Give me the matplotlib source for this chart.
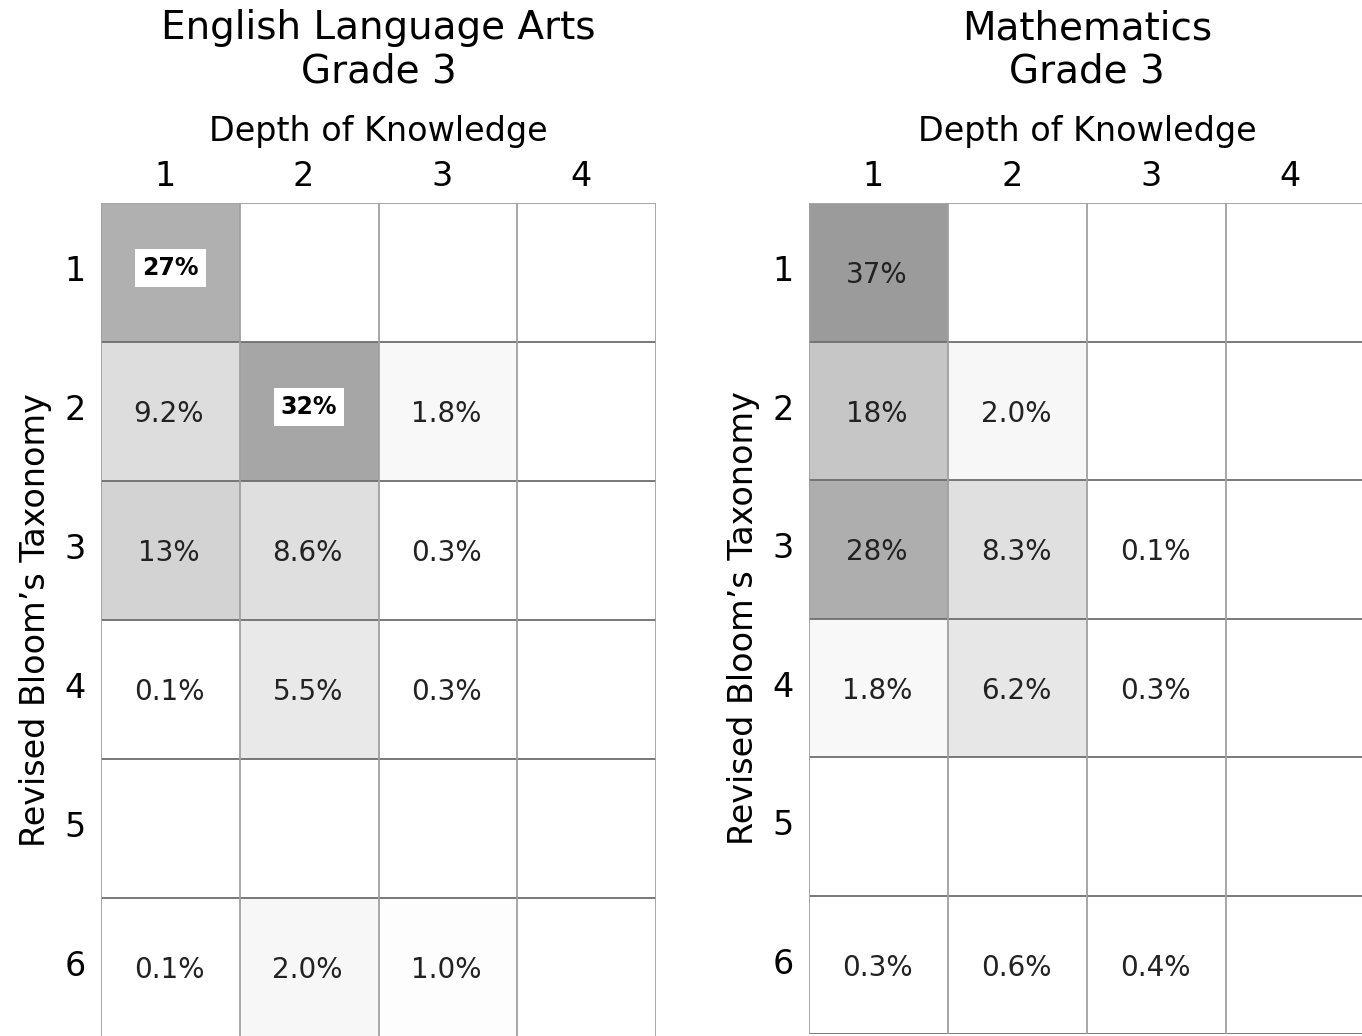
import numpy as np
import matplotlib.pyplot as plt
from matplotlib.colors import LinearSegmentedColormap, PowerNorm

# Depth of Knowledge (columns) x Revised Bloom's Taxonomy (rows), percent
dok_levels = ["1", "2", "3", "4"]
bloom_levels = ["1", "2", "3", "4", "5", "6"]

ela_values = [
    [27.0, np.nan, np.nan, np.nan],
    [9.2, 32.0, 1.8, np.nan],
    [13.0, 8.6, 0.3, np.nan],
    [0.1, 5.5, 0.3, np.nan],
    [np.nan, np.nan, np.nan, np.nan],
    [0.1, 2.0, 1.0, np.nan],
]
ela_labels = [
    ["27%", "", "", ""],
    ["9.2%", "32%", "1.8%", ""],
    ["13%", "8.6%", "0.3%", ""],
    ["0.1%", "5.5%", "0.3%", ""],
    ["", "", "", ""],
    ["0.1%", "2.0%", "1.0%", ""],
]
math_values = [
    [37.0, np.nan, np.nan, np.nan],
    [18.0, 2.0, np.nan, np.nan],
    [28.0, 8.3, 0.1, np.nan],
    [1.8, 6.2, 0.3, np.nan],
    [np.nan, np.nan, np.nan, np.nan],
    [0.3, 0.6, 0.4, np.nan],
]
math_labels = [
    ["37%", "", "", ""],
    ["18%", "2.0%", "", ""],
    ["28%", "8.3%", "0.1%", ""],
    ["1.8%", "6.2%", "0.3%", ""],
    ["", "", "", ""],
    ["0.3%", "0.6%", "0.4%", ""],
]
# cells whose label sits in a white box in the original
ela_boxed = ["27%", "32%"]

cmap = LinearSegmentedColormap.from_list("greys", ["#ffffff", "#959595"])
cmap.set_bad("white")
cmap.set_under("white")
norm = PowerNorm(gamma=0.75, vmin=0.7, vmax=40)

W, H = 1362, 1036
fig = plt.figure(figsize=(W / 100, H / 100), dpi=100)


def panel(left_px, top_px, bottom_px, width_px, values, labels, title, boxed=()):
    ax = fig.add_axes([left_px / W, 1 - bottom_px / H,
                       width_px / W, (bottom_px - top_px) / H])
    data = np.ma.masked_invalid(np.array(values))
    ax.pcolormesh(np.arange(5), np.arange(7), data, cmap=cmap, norm=norm)
    ax.set_xlim(0, 4)
    ax.set_ylim(6, 0)
    for y in range(1, 7):
        ax.axhline(y, color="#6e6e6e", lw=1.3, zorder=3)
    ax.axhline(0, color="#a8a8a8", lw=1.5, zorder=3)
    for x in range(0, 5):
        ax.axvline(x, color="#a0a0a0", lw=1.3, zorder=3)
    for s in ax.spines.values():
        s.set_visible(False)

    for r, row in enumerate(labels):
        for c, lab in enumerate(row):
            if not lab:
                continue
            if lab in boxed:
                ax.text(c + 0.5, r + 0.47, lab, ha="center", va="center",
                        fontsize=17, fontweight="bold", color="black", zorder=5,
                        bbox=dict(boxstyle="square,pad=0.3", fc="white", ec="none"))
            else:
                ax.text(c + 0.49, r + 0.52, lab, ha="center", va="center",
                        fontsize=20, color="#222222", zorder=5)

    ax.xaxis.tick_top()
    ax.set_xticks(np.arange(4) + 0.46)
    ax.set_xticklabels(dok_levels, fontsize=24)
    ax.set_yticks(np.arange(6) + 0.47)
    ax.set_yticklabels(bloom_levels, fontsize=24)
    ax.tick_params(axis="x", length=0, pad=7)
    ax.tick_params(axis="y", length=0, pad=11)
    ax.xaxis.set_label_position("top")
    ax.set_xlabel("Depth of Knowledge", fontsize=24, labelpad=14)
    ax.set_ylabel("Revised Bloom\u2019s Taxonomy", fontsize=24, labelpad=9)
    ax.set_title(title, fontsize=28, pad=23, linespacing=1.18)
    return ax


panel(101, 203, 1037, 555, ela_values, ela_labels,
      "English Language Arts\nGrade 3", boxed=ela_boxed)
panel(809, 203, 1034, 556, math_values, math_labels,
      "Mathematics\nGrade 3")

fig.savefig("out.png", dpi=100, facecolor="white")
